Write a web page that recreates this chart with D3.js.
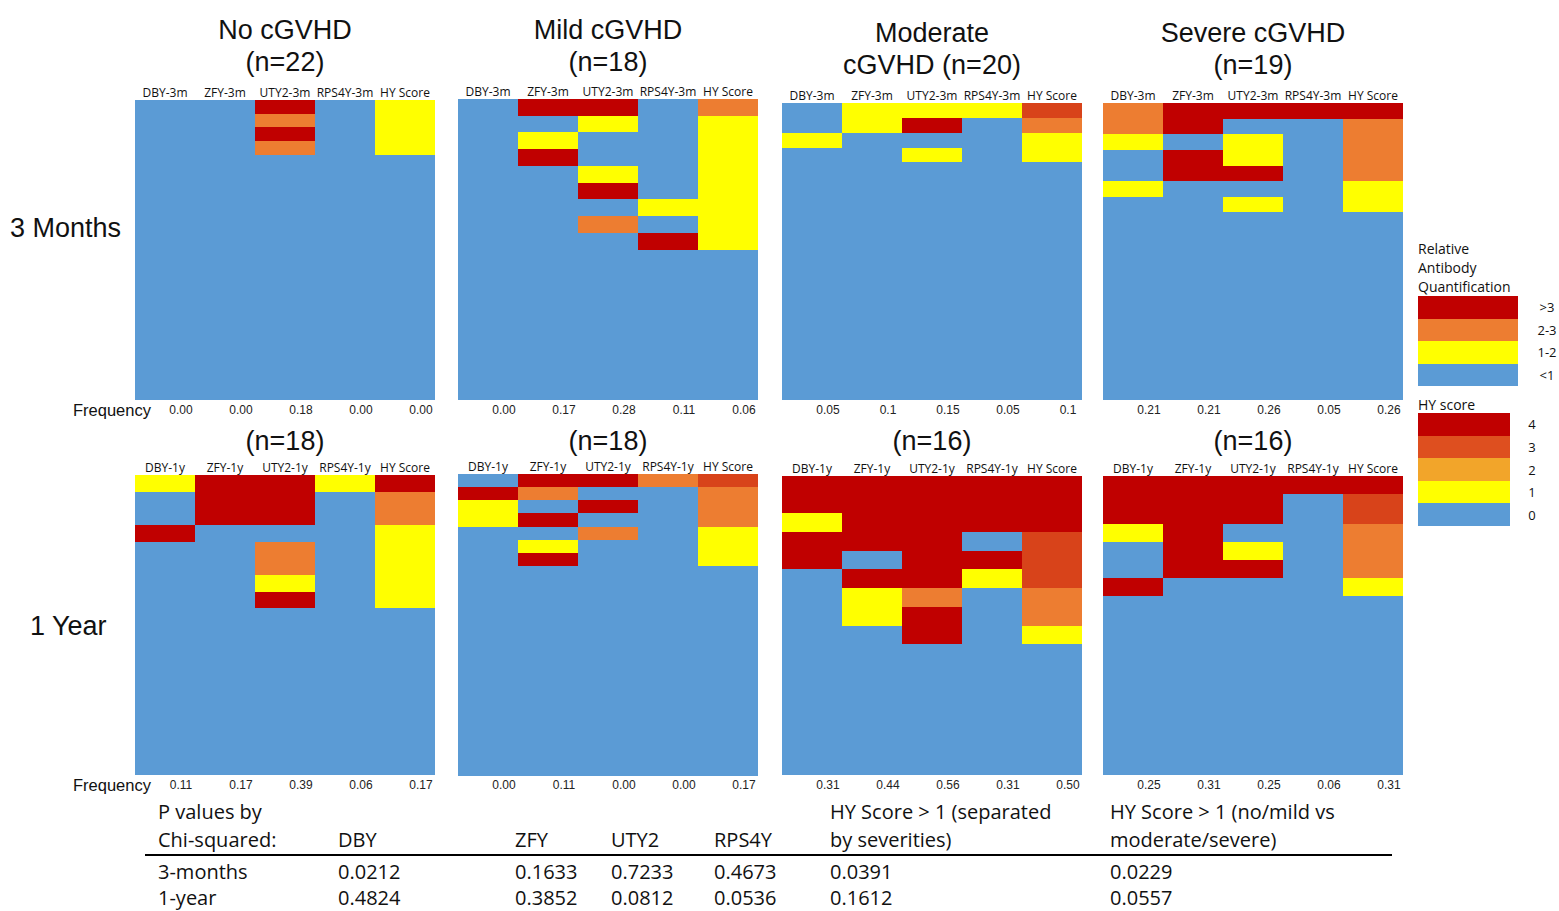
<!DOCTYPE html>
<html>
<head>
<meta charset="utf-8">
<script src="https://cdn.jsdelivr.net/npm/d3@7"></script>
<style>
  html, body { margin: 0; padding: 0; background: #fff; }
  svg { display: block; }
</style>
</head>
<body>
<svg id="chart" width="1559" height="911"></svg>
<script>
// ---- data -------------------------------------------------------------
const groups = ["No cGVHD", "Mild cGVHD", "Moderate cGVHD", "Severe cGVHD"];
const groupTitles = [["No cGVHD", "(n=22)"], ["Mild cGVHD", "(n=18)"], ["Moderate", "cGVHD (n=20)"], ["Severe cGVHD", "(n=19)"]];
const yearTitles = ["(n=18)", "(n=18)", "(n=16)", "(n=16)"];
const columns3m = ["DBY-3m", "ZFY-3m", "UTY2-3m", "RPS4Y-3m", "HY Score"];
const columns1y = ["DBY-1y", "ZFY-1y", "UTY2-1y", "RPS4Y-1y", "HY Score"];

// one string per patient: DBY, ZFY, UTY2, RPS4Y antibody level (0 <1, 1 1-2, 2 2-3, 3 >3), then HY score (0-4)
const rows3mNone = ["00301", "00201", "00301", "00201",
  "00000", "00000", "00000", "00000", "00000", "00000", "00000", "00000", "00000",
  "00000", "00000", "00000", "00000", "00000", "00000", "00000", "00000", "00000"];
const rows3mMild = ["03302", "00101", "01001", "03001", "00101", "00301", "00011", "00201", "00031",
  "00000", "00000", "00000", "00000", "00000", "00000", "00000", "00000", "00000"];
const rows3mModerate = ["01113", "01302", "10001", "00101",
  "00000", "00000", "00000", "00000", "00000", "00000", "00000", "00000",
  "00000", "00000", "00000", "00000", "00000", "00000", "00000", "00000"];
const rows3mSevere = ["23334", "23002", "10102", "03102", "03302", "10001", "00101",
  "00000", "00000", "00000", "00000", "00000", "00000", "00000", "00000", "00000", "00000", "00000", "00000"];

const rows1yNone = ["13314", "03302", "03302", "30001", "00201", "00201", "00101", "00301",
  "00000", "00000", "00000", "00000", "00000", "00000", "00000", "00000", "00000", "00000"];
const rows1yMild = ["03323", "32002", "10302", "13002", "00201", "01001", "03001",
  "00000", "00000", "00000", "00000", "00000", "00000", "00000", "00000",
  "00000", "00000", "00000", "00000", "00000", "00000", "00000", "00000"];
const rows1yModerate = ["33334", "33334", "13334", "33303", "30333", "03313", "01202", "01302", "00301",
  "00000", "00000", "00000", "00000", "00000", "00000", "00000"];
const rows1ySevere = ["33334", "33303", "13002", "03102", "03302", "30001",
  "00000", "00000", "00000", "00000", "00000", "00000", "00000", "00000", "00000", "00000"];

const freq3m = [["0.00", "0.00", "0.18", "0.00", "0.00"],
                ["0.00", "0.17", "0.28", "0.11", "0.06"],
                ["0.05", "0.1", "0.15", "0.05", "0.1"],
                ["0.21", "0.21", "0.26", "0.05", "0.26"]];
const freq1y = [["0.11", "0.17", "0.39", "0.06", "0.17"],
                ["0.00", "0.11", "0.00", "0.00", "0.17"],
                ["0.31", "0.44", "0.56", "0.31", "0.50"],
                ["0.25", "0.31", "0.25", "0.06", "0.31"]];

const antibodyLevels = [">3", "2-3", "1-2", "<1"];
const hyLevels = ["4", "3", "2", "1", "0"];

const pHeaderLines = [["P values by", "Chi-squared:"], ["", "DBY"], ["", "ZFY"], ["", "UTY2"], ["", "RPS4Y"],
  ["HY Score > 1 (separated", "by severities)"], ["HY Score > 1 (no/mild vs", "moderate/severe)"]];
const pRowLabels = ["3-months", "1-year"];
const pValues3m = ["0.0212", "0.1633", "0.7233", "0.4673", "0.0391", "0.0229"];
const pValues1y = ["0.4824", "0.3852", "0.0812", "0.0536", "0.1612", "0.0557"];

// ---- colours ----------------------------------------------------------
const antibodyColor = d3.scaleOrdinal().domain([0, 1, 2, 3]).range(["#5b9bd5", "#ffff00", "#ed7d31", "#c00000"]);
const hyColor = d3.scaleOrdinal().domain([0, 1, 2, 3, 4]).range(["#5b9bd5", "#ffff00", "#ed7d31", "#d8431a", "#c00000"]);
const antibodyLegendColor = d3.scaleOrdinal().domain(antibodyLevels).range(["#c00000", "#ed7d31", "#ffff00", "#5b9bd5"]);
const hyLegendColor = d3.scaleOrdinal().domain(hyLevels).range(["#c00000", "#de4f1f", "#f2a52a", "#ffff00", "#5b9bd5"]);

// ---- layout -----------------------------------------------------------
const svg = d3.select("#chart");
const panelX = [135, 458, 782, 1103];
const panelW = 300;
const panels = [
  { rows: rows3mNone, cols: columns3m, freq: freq3m[0], g: 0, top: 100, bottom: 400 },
  { rows: rows3mMild, cols: columns3m, freq: freq3m[1], g: 1, top: 99, bottom: 400 },
  { rows: rows3mModerate, cols: columns3m, freq: freq3m[2], g: 2, top: 103, bottom: 400 },
  { rows: rows3mSevere, cols: columns3m, freq: freq3m[3], g: 3, top: 103, bottom: 400 },
  { rows: rows1yNone, cols: columns1y, freq: freq1y[0], g: 0, top: 475, bottom: 775 },
  { rows: rows1yMild, cols: columns1y, freq: freq1y[1], g: 1, top: 474, bottom: 776 },
  { rows: rows1yModerate, cols: columns1y, freq: freq1y[2], g: 2, top: 476, bottom: 775 },
  { rows: rows1ySevere, cols: columns1y, freq: freq1y[3], g: 3, top: 476, bottom: 775, tallRow: 1 }
];

const labelFont = "'Liberation Sans', Arial, sans-serif";
const smallFont = "'Open Sans', 'Noto Sans', sans-serif";

panels.forEach((p, pi) => {
  const x = d3.scaleBand().domain(p.cols).range([panelX[p.g], panelX[p.g] + panelW]);
  // row heights in units; one row of the last panel is drawn taller
  const units = p.rows.map((_, i) => (p.tallRow === i ? 5 / 3 : 1));
  const starts = d3.cumsum([0].concat(units));
  const y = d3.scaleLinear().domain([0, d3.sum(units)]).range([p.top, p.bottom]);

  const cells = [];
  p.rows.forEach((r, ri) => {
    r.split("").forEach((c, ci) => {
      cells.push({ row: ri, col: p.cols[ci], ci, v: +c });
    });
  });

  const g = svg.append("g").attr("class", "panel");
  g.append("g").attr("shape-rendering", "crispEdges")
    .selectAll("rect").data(cells).join("rect")
    .attr("x", d => Math.round(x(d.col)))
    .attr("width", d => Math.round(x(d.col) + x.bandwidth()) - Math.round(x(d.col)))
    .attr("y", d => Math.round(y(starts[d.row])))
    .attr("height", d => Math.round(y(starts[d.row + 1])) - Math.round(y(starts[d.row])))
    .attr("fill", d => d.ci === 4 ? hyColor(d.v) : antibodyColor(d.v));

  // column headers
  g.selectAll("text.head").data(p.cols).join("text")
    .attr("class", "head")
    .attr("x", d => x(d) + x.bandwidth() / 2)
    .attr("y", p.top - 3)
    .attr("text-anchor", "middle")
    .attr("font-family", smallFont)
    .attr("font-size", 12)
    .attr("fill", "#111")
    .text(d => d);

  // frequency row
  g.selectAll("text.freq").data(p.freq).join("text")
    .attr("class", "freq")
    .attr("x", (d, i) => x(p.cols[i]) + x.bandwidth() / 2 + 16)
    .attr("y", (pi < 4 ? 400 : 775) + 14)
    .attr("text-anchor", "middle")
    .attr("font-family", labelFont)
    .attr("font-size", 12)
    .attr("fill", "#222")
    .text(d => d);
});

// group titles
groupTitles.forEach((t, i) => {
  const cx = panelX[i] + panelW / 2;
  const base = i < 2 ? 39 : 42;
  t.forEach((line, li) => {
    svg.append("text")
      .attr("x", cx).attr("y", base + li * 32)
      .attr("text-anchor", "middle")
      .attr("font-family", labelFont).attr("font-size", 27)
      .attr("fill", "#111")
      .text(line);
  });
});
yearTitles.forEach((t, i) => {
  svg.append("text")
    .attr("x", panelX[i] + panelW / 2).attr("y", 450)
    .attr("text-anchor", "middle")
    .attr("font-family", labelFont).attr("font-size", 27)
    .attr("fill", "#111")
    .text(t);
});

// time point labels
[["3 Months", 10, 237], ["1 Year", 30, 635]].forEach(([t, lx, ly]) => {
  svg.append("text").attr("x", lx).attr("y", ly)
    .attr("font-family", labelFont).attr("font-size", 27).attr("fill", "#111").text(t);
});
[416, 791].forEach(ly => {
  svg.append("text").attr("x", 73).attr("y", ly)
    .attr("font-family", labelFont).attr("font-size", 16.5).attr("fill", "#111").text("Frequency");
});

// ---- legends ----------------------------------------------------------
const legend = svg.append("g");
["Relative", "Antibody", "Quantification"].forEach((t, i) => {
  legend.append("text").attr("x", 1418).attr("y", 254 + i * 19)
    .attr("font-family", smallFont).attr("font-size", 14).attr("fill", "#111").text(t);
});
const abY = d3.scaleBand().domain(antibodyLevels).range([296, 386]);
legend.append("g").attr("shape-rendering", "crispEdges")
  .selectAll("rect").data(antibodyLevels).join("rect")
  .attr("x", 1418).attr("width", 100)
  .attr("y", d => abY(d)).attr("height", abY.bandwidth())
  .attr("fill", d => antibodyLegendColor(d));
legend.selectAll("text.ab").data(antibodyLevels).join("text").attr("class", "ab")
  .attr("x", 1547).attr("y", d => abY(d) + abY.bandwidth() / 2 + 5)
  .attr("text-anchor", "middle")
  .attr("font-family", smallFont).attr("font-size", 13).attr("fill", "#111")
  .text(d => d);

legend.append("text").attr("x", 1418).attr("y", 410)
  .attr("font-family", smallFont).attr("font-size", 14).attr("fill", "#111").text("HY score");
const hyY = d3.scaleBand().domain(hyLevels).range([413, 526]);
legend.append("g").attr("shape-rendering", "crispEdges")
  .selectAll("rect").data(hyLevels).join("rect")
  .attr("x", 1418).attr("width", 92)
  .attr("y", d => hyY(d)).attr("height", hyY.bandwidth())
  .attr("fill", d => hyLegendColor(d));
legend.selectAll("text.hy").data(hyLevels).join("text").attr("class", "hy")
  .attr("x", 1532).attr("y", d => hyY(d) + hyY.bandwidth() / 2 + 5)
  .attr("text-anchor", "middle")
  .attr("font-family", smallFont).attr("font-size", 13).attr("fill", "#111")
  .text(d => d);

// ---- p-value table ----------------------------------------------------
const tableCols = [158, 338, 515, 611, 714, 830, 1110];
const table = svg.append("g")
  .attr("font-family", smallFont).attr("font-size", 20).attr("fill", "#111");
pHeaderLines.forEach((lines, ci) => {
  lines.forEach((t, li) => {
    if (!t) return;
    table.append("text").attr("x", tableCols[ci]).attr("y", 819 + li * 28).text(t);
  });
});
table.append("line").attr("x1", 145).attr("x2", 1392).attr("y1", 855).attr("y2", 855)
  .attr("stroke", "#000").attr("stroke-width", 2);
[pValues3m, pValues1y].forEach((vals, ri) => {
  const yy = 879 + ri * 26;
  table.append("text").attr("x", tableCols[0]).attr("y", yy).text(pRowLabels[ri]);
  vals.forEach((v, vi) => {
    table.append("text").attr("x", tableCols[vi + 1]).attr("y", yy).text(v);
  });
});
</script>
</body>
</html>
